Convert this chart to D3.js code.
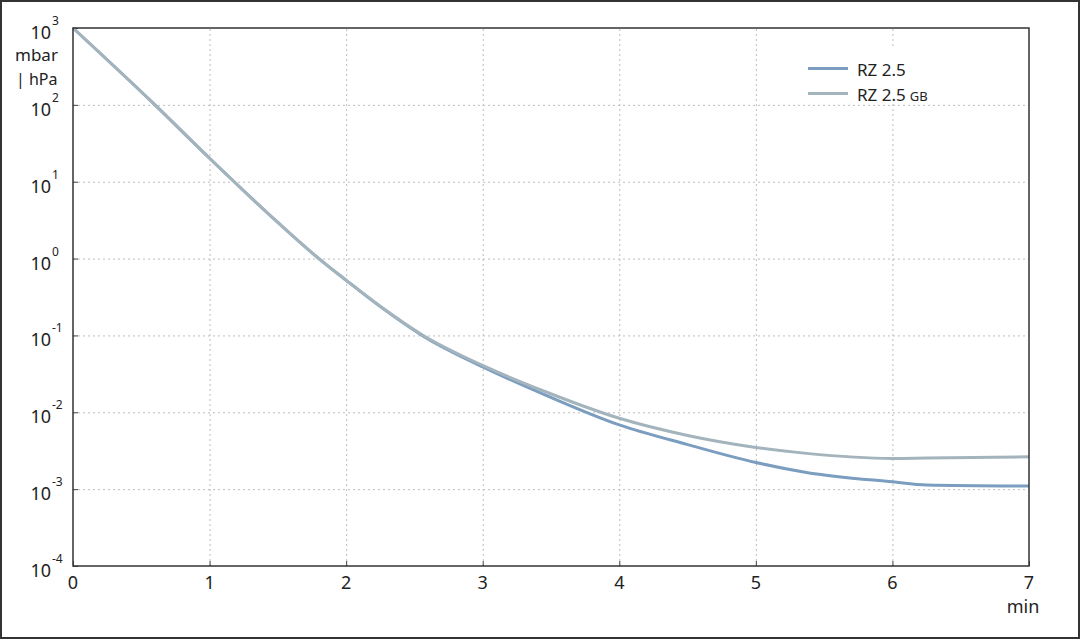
<!DOCTYPE html>
<html>
<head>
<meta charset="utf-8">
<script src="https://cdn.jsdelivr.net/npm/d3@7"></script>
<style>
  body { margin: 0; background: #fff; }
  svg { display: block; font-family: "Noto Sans", "Open Sans", sans-serif; }
  .grid line { stroke: #bdbdbd; stroke-dasharray: 2,3; }
  .grid path { display: none; }
</style>
</head>
<body>
<svg id="chart" width="1080" height="639"></svg>
<script>
// time in minutes
var times = [0, 0.6, 1, 1.5, 1.8, 2, 2.25, 2.565, 3, 3.46, 4, 4.5, 5, 5.37, 6, 6.25, 7]
// pressure, mbar
var rz25 = [1000, 100, 20.2, 2.95, 1.0, 0.521, 0.237, 0.0977, 0.0389, 0.01675, 0.00686, 0.0038, 0.00222, 0.00165, 0.001245, 0.001135, 0.0011]
var rz25gb = [1000, 100, 20.2, 2.95, 1.0, 0.525, 0.24, 0.1, 0.0407, 0.0185, 0.00836, 0.005, 0.00349, 0.00292, 0.00251, 0.00254, 0.00264]
var xTicks = [0, 1, 2, 3, 4, 5, 6, 7]
var yTicks = [3, 2, 1, 0, -1, -2, -3, -4]

var width = 1080, height = 639
var margin = {top: 28, right: 51, bottom: 73, left: 73}

var svg = d3.select('#chart')

// outer frame
svg.append('rect')
  .attr('x', 1).attr('y', 1)
  .attr('width', width - 2).attr('height', height - 2)
  .attr('fill', 'none')
  .attr('stroke', '#333')
  .attr('stroke-width', 2)

var xScale = d3.scaleLinear()
  .domain([0, 7])
  .range([margin.left, width - margin.right])

var yScale = d3.scaleLog()
  .domain([1e-4, 1e3])
  .range([height - margin.bottom, margin.top])

// grid
svg.append('g')
  .attr('class', 'grid')
  .attr('transform', `translate(0,${height - margin.bottom})`)
  .call(d3.axisBottom(xScale).tickValues(xTicks.slice(1, -1))
    .tickSize(-(height - margin.top - margin.bottom)).tickFormat(''))

svg.append('g')
  .attr('class', 'grid')
  .attr('transform', `translate(${margin.left},0)`)
  .call(d3.axisLeft(yScale).tickValues(yTicks.slice(1, -1).map(d => Math.pow(10, d)))
    .tickSize(-(width - margin.left - margin.right)).tickFormat(''))

// inner tick marks
svg.append('g')
  .attr('transform', `translate(0,${height - margin.bottom})`)
  .call(d3.axisBottom(xScale).tickValues(xTicks).tickSizeInner(-5).tickSizeOuter(0).tickFormat(''))
  .call(g => g.select('.domain').remove())
  .selectAll('line').attr('stroke', '#444')

svg.append('g')
  .attr('transform', `translate(${margin.left},0)`)
  .call(d3.axisLeft(yScale).tickValues(yTicks.map(d => Math.pow(10, d))).tickSizeInner(-5).tickSizeOuter(0).tickFormat(''))
  .call(g => g.select('.domain').remove())
  .selectAll('line').attr('stroke', '#444')

// x labels
svg.append('g')
  .selectAll('text')
  .data(xTicks)
  .join('text')
  .attr('x', d => xScale(d))
  .attr('y', height - margin.bottom + 23)
  .attr('text-anchor', 'middle')
  .attr('font-size', 18)
  .attr('fill', '#222')
  .text(d => d)

svg.append('text')
  .attr('x', xScale(7) - 6)
  .attr('y', height - margin.bottom + 47)
  .attr('text-anchor', 'middle')
  .attr('font-size', 18)
  .attr('fill', '#222')
  .text('min')

// y labels 10^n
svg.append('g')
  .selectAll('text')
  .data(yTicks)
  .join('text')
  .attr('x', 51)
  .attr('y', d => yScale(Math.pow(10, d)) + 11)
  .attr('text-anchor', 'end')
  .attr('font-size', 18)
  .attr('fill', '#222')
  .text('10')

svg.append('g')
  .selectAll('text')
  .data(yTicks)
  .join('text')
  .attr('x', 52)
  .attr('y', d => yScale(Math.pow(10, d)) - 3)
  .attr('font-size', 12)
  .attr('fill', '#222')
  .text(d => d)

svg.append('text')
  .attr('x', 15).attr('y', 61)
  .attr('font-size', 17).attr('fill', '#222')
  .text('mbar')
svg.append('text')
  .attr('x', 16).attr('y', 85)
  .attr('font-size', 16).attr('fill', '#222')
  .text('| hPa')

// curves
var line = d3.line()
  .x((d, i) => xScale(times[i]))
  .y(d => yScale(d))
  .curve(d3.curveMonotoneX)

svg.append('path')
  .datum(rz25)
  .attr('d', line)
  .attr('fill', 'none')
  .attr('stroke', '#7b9dbf')
  .attr('stroke-width', 3)

svg.append('path')
  .datum(rz25gb)
  .attr('d', line)
  .attr('fill', 'none')
  .attr('stroke', '#a4b4bd')
  .attr('stroke-width', 3)

// plot frame
svg.append('rect')
  .attr('x', margin.left).attr('y', margin.top)
  .attr('width', width - margin.left - margin.right)
  .attr('height', height - margin.top - margin.bottom)
  .attr('fill', 'none')
  .attr('stroke', '#333')
  .attr('stroke-width', 1.5)

// legend
var legend = svg.append('g')
legend.append('rect')
  .attr('x', 803).attr('y', 47)
  .attr('width', 132).attr('height', 57)
  .attr('fill', '#fff')

var legendItems = [
  {name: 'RZ 2.5', sub: '', color: '#7b9dbf'},
  {name: 'RZ 2.5', sub: 'GB', color: '#a4b4bd'}
]
legendItems.forEach(function(it, i) {
  var y = 68.5 + i * 25
  legend.append('line')
    .attr('x1', 808).attr('x2', 848)
    .attr('y1', y).attr('y2', y)
    .attr('stroke', it.color)
    .attr('stroke-width', 3)
  var t = legend.append('text')
    .attr('x', 857).attr('y', y + 7)
    .attr('font-size', 17).attr('fill', '#222')
  t.append('tspan').text(it.name)
  if (it.sub) t.append('tspan').attr('font-size', 13).attr('dx', 4).text(it.sub)
})
</script>
</body>
</html>
